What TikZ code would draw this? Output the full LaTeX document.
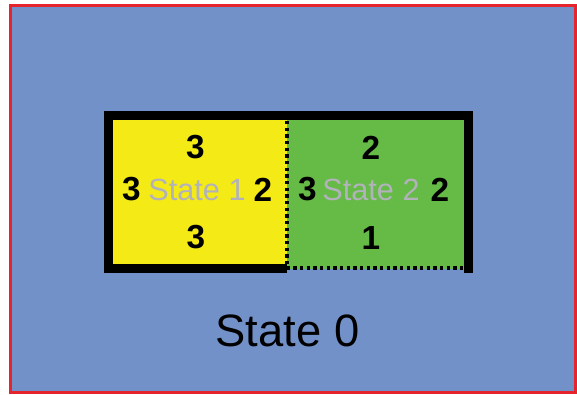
\documentclass[tikz,border=0pt]{standalone}
\usepackage{fontspec}
\setmainfont{Liberation Sans}
\usepackage{tikz}
\usetikzlibrary{positioning}

\definecolor{bgblue}{RGB}{113,145,200}
\definecolor{framered}{RGB}{230,36,46}
\definecolor{roomyellow}{RGB}{243,234,22}
\definecolor{roomgreen}{RGB}{102,186,70}
\definecolor{labelgray}{RGB}{178,178,188}

\begin{document}
\begin{tikzpicture}[x=0.75pt, y=-0.75pt,
  num/.style={inner sep=0pt, font=\fontsize{25}{25}\selectfont\bfseries},
  lbl/.style={inner sep=0pt, text=labelgray, font=\fontsize{23}{23}\selectfont},
  wall/.style={line width=6.75pt, line join=miter},
  gate/.style={line width=2.6pt, dash pattern=on 2.6pt off 2.4pt}]
  \useasboundingbox (0,0) rectangle (577,394);
  \draw[fill=bgblue, draw=framered, line width=2.25pt] (10.5,5.5) rectangle (575.5,392.5);

  % the two rooms
  \fill[roomyellow] (108,115.5) rectangle (287,268.5);
  \fill[roomgreen] (287,115.5) rectangle (468,268.5);
  \draw[wall] (287,268.5) -- (108,268.5) -- (108,115.5) -- (468,115.5) -- (468,273);
  \draw[gate] (287,121) -- (287,268) -- (463,268);

  % state 1
  \node[lbl] (s1) at (197,190) {State 1};
  \node[num] (s1n) at (195.5,147) {3};
  \node[num] (s1w) at (131.5,189.5) {3};
  \node[num] (s1e) at (263,189.5) {2};
  \node[num] (s1s) at (196,237) {3};

  % state 2
  \node[lbl] (s2) at (371,190) {State 2};
  \node[num] (s2n) at (371,147.5) {2};
  \node[num] (s2w) at (307.5,189.5) {3};
  \node[num] (s2e) at (440,189.5) {2};
  \node[num] (s2s) at (371,238) {1};

  \node[inner sep=0pt, font=\fontsize{34}{34}\selectfont] (s0) at (287.5,331) {State 0};
\end{tikzpicture}
\end{document}
